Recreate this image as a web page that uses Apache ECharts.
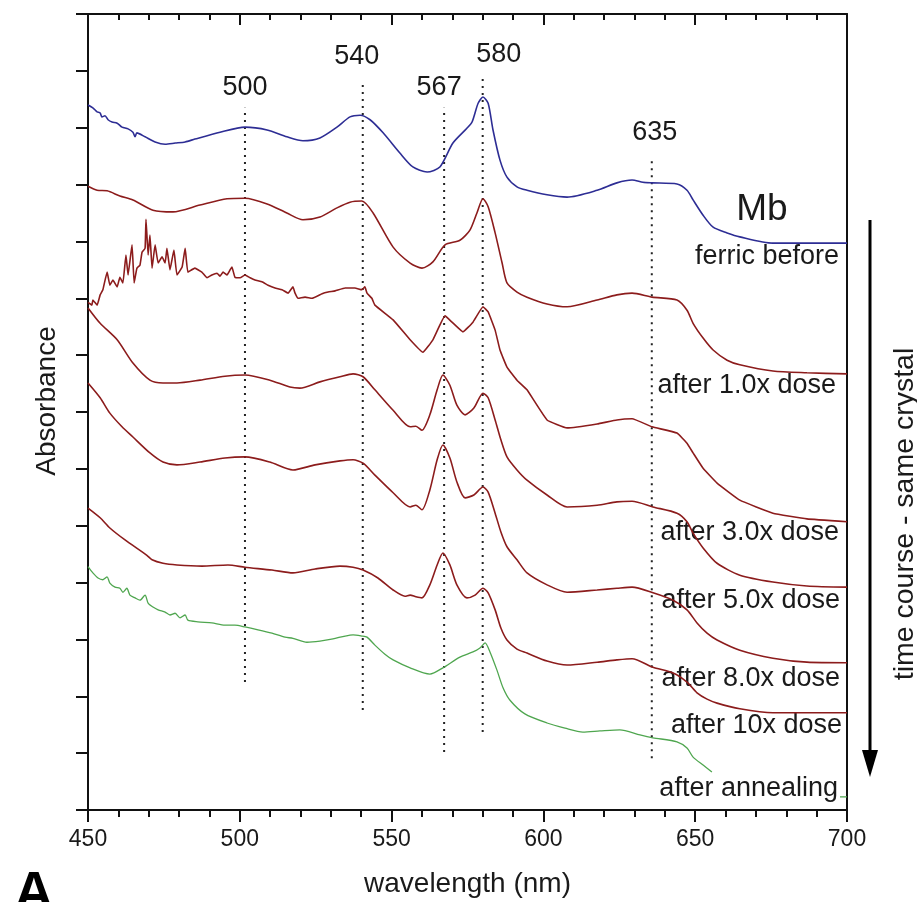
<!DOCTYPE html>
<html>
<head>
<meta charset="utf-8">
<script src="https://cdn.jsdelivr.net/npm/echarts@6/dist/echarts.min.js"></script>
<style>html,body{margin:0;padding:0;background:#fff}#c{width:917px;height:902px}</style>
</head>
<body>
<div id="c"></div>
<script>
// ---------- data (wavelength nm, absorbance in offset units) ----------
const xTickLabels = [450, 500, 550, 600, 650, 700];

const ferricBefore = [[450,12.40],[451.6,12.35],[453.0,12.28],[454.0,12.26],[454.6,12.19],[455.6,12.21],[456.6,12.14],[457.9,12.10],[459.6,12.08],[461.2,12.01],[463.2,11.98],[464.8,11.92],[465.5,11.84],[466.1,11.91],[468.8,11.84],[472.1,11.75],[475.4,11.71],[478.7,11.73],[482.0,11.75],[485.2,11.80],[493.5,11.92],[501.7,12.01],[509.0,11.96],[515.5,11.84],[520.8,11.77],[526.4,11.82],[532.0,12.01],[536.3,12.19],[539.6,12.22],[542.9,12.14],[547.2,11.91],[552.8,11.55],[557.0,11.31],[561.7,11.22],[565.9,11.31],[570.2,11.73],[574.8,11.99],[576.5,12.10],[578.5,12.43],[580.1,12.54],[581.8,12.43],[583.4,11.96],[585.7,11.43],[588.0,11.13],[591.3,10.96],[594.6,10.90],[601.2,10.82],[607.8,10.78],[617.7,10.90],[624.2,11.03],[629.2,11.08],[632.8,11.04],[635.8,11.03],[644.0,11.01],[647.3,10.90],[649.3,10.73],[652.6,10.46],[655.9,10.25],[660.5,10.15],[664.7,10.08],[675.6,9.97],[686.8,9.97],[700,9.97]];

const dose1x = [[450,10.97],[453.0,10.90],[456.3,10.89],[460.5,10.80],[464.8,10.73],[471.4,10.55],[478.0,10.52],[486.9,10.64],[495.8,10.75],[501.7,10.76],[509.0,10.66],[515.5,10.50],[520.8,10.38],[526.4,10.43],[532.0,10.59],[536.3,10.69],[540.2,10.71],[543.9,10.50],[550.5,9.90],[556.1,9.62],[560.0,9.53],[563.6,9.64],[567.6,9.94],[572.5,10.02],[575.8,10.20],[578.1,10.50],[580.1,10.75],[581.8,10.61],[584.1,10.15],[586.4,9.62],[588.0,9.27],[591.3,9.11],[594.6,9.02],[601.2,8.90],[607.8,8.85],[617.7,8.97],[624.2,9.06],[629.2,9.09],[635.8,9.02],[644.0,8.97],[647.3,8.79],[649.3,8.56],[652.6,8.30],[655.9,8.09],[660.5,7.91],[664.7,7.83],[675.6,7.72],[686.8,7.69],[700,7.67]];

const dose3x = [[450,8.93],[451.3,8.88],[451.6,8.97],[453.0,8.88],[454.0,9.06],[454.9,9.15],[456.3,9.46],[457.2,9.23],[458.2,9.32],[459.6,9.20],[460.5,9.37],[461.5,9.27],[462.5,9.76],[463.2,9.41],[464.5,9.94],[465.2,9.27],[466.1,9.53],[467.1,9.58],[467.8,9.81],[468.8,9.88],[469.1,10.39],[469.8,9.76],[470.4,10.11],[471.1,9.53],[472.1,9.94],[473.1,9.62],[474.4,9.73],[475.4,9.62],[476.0,9.88],[477.0,9.50],[478.3,9.85],[479.3,9.41],[481.0,9.55],[482.0,9.88],[482.9,9.46],[485.2,9.53],[487.5,9.46],[489.2,9.36],[490.8,9.41],[492.5,9.44],[493.5,9.39],[494.5,9.46],[495.8,9.41],[496.8,9.50],[497.4,9.55],[498.4,9.37],[500.1,9.36],[501.7,9.41],[503.4,9.36],[505.0,9.32],[507.3,9.29],[509.3,9.23],[511.6,9.18],[513.9,9.15],[515.9,9.09],[517.5,9.20],[518.2,9.09],[519.2,9.00],[521.5,9.02],[523.8,9.00],[527.1,9.08],[529.1,9.11],[531.4,9.13],[534.7,9.18],[537.9,9.18],[540.2,9.15],[541.2,9.20],[541.9,9.09],[543.5,9.00],[544.5,8.88],[550.5,8.62],[556.1,8.27],[560.3,8.05],[563.6,8.27],[567.6,8.69],[569.9,8.58],[573.5,8.41],[576.8,8.58],[580.1,8.85],[581.8,8.76],[584.1,8.44],[585.7,8.09],[588.0,7.79],[591.3,7.56],[594.6,7.39],[601.2,6.86],[607.8,6.72],[617.7,6.79],[624.2,6.86],[629.2,6.88],[635.8,6.74],[644.0,6.63],[647.3,6.45],[649.3,6.28],[652.6,6.01],[657.2,5.75],[664.7,5.45],[675.6,5.22],[686.8,5.12],[700,5.07]];

const dose5x = [[450,8.83],[454.0,8.56],[459.6,8.27],[464.8,7.86],[470.4,7.56],[474.7,7.51],[479.3,7.51],[486.9,7.56],[495.1,7.63],[501.7,7.65],[509.9,7.56],[516.5,7.44],[519.8,7.42],[526.4,7.53],[533.0,7.62],[537.3,7.67],[540.6,7.62],[544.5,7.39],[550.5,7.03],[556.1,6.74],[558.0,6.75],[560.0,6.68],[562.6,6.95],[565.0,7.39],[566.9,7.65],[569.2,7.47],[571.5,7.12],[574.2,6.95],[577.1,7.07],[580.1,7.33],[581.8,7.25],[584.1,6.86],[586.0,6.51],[588.0,6.21],[591.3,5.98],[594.6,5.80],[601.2,5.54],[607.8,5.33],[617.7,5.36],[624.2,5.42],[629.2,5.43],[636.1,5.33],[644.0,5.22],[647.3,5.07],[649.3,4.87],[652.6,4.61],[657.2,4.34],[664.7,4.13],[675.6,4.01],[686.8,3.94],[700,3.92]];

const dose8x = [[450,7.51],[454.0,7.25],[457.2,6.98],[461.2,6.74],[464.8,6.56],[470.4,6.28],[474.7,6.12],[479.3,6.07],[486.9,6.12],[495.1,6.19],[501.7,6.21],[509.9,6.12],[517.5,5.98],[524.8,6.07],[533.0,6.14],[537.3,6.16],[540.6,6.10],[544.5,5.89],[550.5,5.58],[556.1,5.33],[558.0,5.36],[560.0,5.28],[562.6,5.63],[565.0,6.16],[566.9,6.42],[569.2,6.19],[571.5,5.77],[574.2,5.49],[577.1,5.54],[580.1,5.68],[581.8,5.59],[584.1,5.22],[586.0,4.89],[588.0,4.63],[591.3,4.40],[594.6,4.17],[601.2,3.96],[607.8,3.83],[617.7,3.87],[624.2,3.90],[629.2,3.92],[636.1,3.82],[642.7,3.69],[647.3,3.52],[650.6,3.29],[653.9,3.11],[657.2,2.99],[664.7,2.81],[675.6,2.67],[686.8,2.60],[700,2.59]];

const dose10x = [[450,5.31],[454.0,5.14],[457.2,4.96],[462.2,4.75],[469.4,4.48],[471.1,4.40],[474.7,4.34],[479.3,4.31],[487.5,4.29],[496.1,4.31],[501.7,4.27],[510.6,4.22],[517.5,4.17],[524.8,4.24],[533.0,4.29],[537.3,4.27],[540.6,4.22],[545.5,4.08],[550.5,3.87],[554.4,3.76],[556.1,3.78],[558.0,3.75],[560.0,3.73],[562.6,3.96],[565.0,4.31],[566.9,4.52],[569.2,4.31],[571.5,3.96],[574.8,3.73],[577.5,3.78],[580.1,3.90],[581.8,3.82],[584.1,3.52],[586.0,3.20],[588.0,2.99],[591.3,2.83],[594.6,2.76],[601.2,2.62],[607.8,2.55],[617.7,2.60],[624.2,2.64],[629.2,2.66],[636.1,2.51],[642.7,2.41],[647.3,2.25],[650.6,2.06],[653.9,1.95],[657.2,1.88],[664.7,1.78],[675.6,1.71],[686.8,1.71],[700,1.71]];

const annealed = [[450,4.28],[451.6,4.17],[453.3,4.08],[454.9,4.05],[456.3,4.10],[457.2,3.99],[458.9,3.92],[460.5,3.90],[461.5,3.83],[462.8,3.90],[463.8,3.78],[465.5,3.73],[467.1,3.69],[468.8,3.78],[469.8,3.64],[471.4,3.57],[473.1,3.52],[475.4,3.48],[477.0,3.43],[478.7,3.46],[480.3,3.38],[482.0,3.43],[482.9,3.34],[486.2,3.31],[490.8,3.29],[495.1,3.25],[498.4,3.25],[501.7,3.22],[506.0,3.17],[510.6,3.11],[514.9,3.04],[517.5,3.02],[522.1,2.95],[526.4,2.97],[530.7,3.01],[534.7,3.06],[537.3,3.08],[540.2,3.06],[541.9,3.04],[544.5,2.90],[547.8,2.74],[550.5,2.64],[556.1,2.50],[562.6,2.39],[566.9,2.50],[572.5,2.69],[576.8,2.78],[579.1,2.85],[580.8,2.94],[582.4,2.78],[584.7,2.46],[586.7,2.15],[589.0,1.93],[593.9,1.69],[601.2,1.53],[607.1,1.44],[613.0,1.37],[618.6,1.39],[625.2,1.41],[631.8,1.32],[636.1,1.27],[644.0,1.20],[647.3,1.09],[649.3,0.93],[652.6,0.79],[655.5,0.67],[676,null],[697.7,0.23],[700,0.23]];

// reference peak markers
const refNames = ['500', '540', '567', '580', '635'];
const refX = [501.7, 540.5, 567.3, 580.0, 635.7];
const refTop = [12.35, 12.79, 12.35, 12.86, 11.48];
const refBottom = [2.25, 1.76, 1.02, 1.37, 0.91];

const curveNames = ['ferric before', 'after 1.0x dose', 'after 3.0x dose', 'after 5.0x dose', 'after 8.0x dose', 'after 10x dose', 'after annealing'];

// ---------- style ----------
const FONT = '"Liberation Sans", Arial, Helvetica, sans-serif';
const BLUE = '#2d2d94', RED = '#8c1c1c', GREEN = '#4fa64f';
const refLabelDx = [0, -6, -5, 16, 3];
const refLabelDist = [6, 12, 6, 10, 11];
const curveLabelPos = [[839,257],[836,386],[839,533],[840,601],[840,679],[842,726],[838,789]];

const chart = echarts.init(document.getElementById('c'), null, {renderer: 'canvas'});

const curves = [ferricBefore, dose1x, dose3x, dose5x, dose8x, dose10x, annealed];
const colors = [BLUE, RED, RED, RED, RED, RED, GREEN];
const series = curves.map((d, i) => ({
  type: 'line', name: curveNames[i], data: d, showSymbol: false, symbol: 'none',
  smooth: i === 2 ? 0.1 : 0.25, connectNulls: false,
  lineStyle: {color: colors[i], width: i === 6 ? 1.3 : 1.6},
  z: 3, silent: true, animation: false
}));
refNames.forEach((n, i) => {
  series.push({
    type: 'line', name: 'ref ' + n, showSymbol: true, symbol: 'circle', symbolSize: 1,
    itemStyle: {color: 'rgba(0,0,0,0)'},
    data: [[refX[i], refBottom[i]], {value: [refX[i], refTop[i]], label: {show: true}}],
    lineStyle: {color: '#222', width: 2, type: [2, 5]},
    label: {show: false, position: 'top', distance: refLabelDist[i], offset: [refLabelDx[i], 0],
      formatter: n, fontFamily: FONT, fontSize: 27, color: '#1a1a1a'},
    z: 2, silent: true, animation: false
  });
});

const graphics = curveNames.map((t, i) => ({
  type: 'text', x: curveLabelPos[i][0], y: curveLabelPos[i][1], silent: true,
  style: {text: t, font: '27px ' + FONT, fill: '#1a1a1a', align: 'right', verticalAlign: 'middle'}
}));
graphics.push({type: 'text', x: 762, y: 210, silent: true,
  style: {text: 'Mb', font: '37px ' + FONT, fill: '#1a1a1a', align: 'center', verticalAlign: 'middle'}});
graphics.push({type: 'line', silent: true, shape: {x1: 870, y1: 220, x2: 870, y2: 756},
  style: {stroke: '#000', lineWidth: 3}});
graphics.push({type: 'polygon', silent: true, shape: {points: [[862, 750], [878, 750], [870, 777]]},
  style: {fill: '#000'}});
graphics.push({type: 'text', x: 905, y: 514, rotation: Math.PI / 2, silent: true,
  style: {text: 'time course - same crystal', font: '28.5px ' + FONT, fill: '#1a1a1a', align: 'center', verticalAlign: 'middle'}});
graphics.push({type: 'text', x: 14, y: 895, silent: true,
  style: {text: 'A', font: 'bold 55px ' + FONT, fill: '#000', align: 'left', verticalAlign: 'middle'}});

chart.setOption({
  animation: false,
  backgroundColor: '#fff',
  grid: {left: 88, right: 70, top: 14, bottom: 92, containLabel: false, outerBoundsMode: 'none'},
  xAxis: [{
    type: 'value', position: 'bottom', min: 450, max: 700, interval: 50,
    name: 'wavelength (nm)', nameLocation: 'middle', nameGap: 60,
    nameTextStyle: {fontFamily: FONT, fontSize: 28, color: '#1a1a1a'},
    axisLine: {show: true, onZero: false, lineStyle: {color: '#111', width: 2}},
    axisTick: {show: true, inside: false, length: 12, lineStyle: {color: '#111', width: 2}},
    minorTick: {show: true, splitNumber: 5, length: 7, lineStyle: {color: '#111', width: 2}},
    axisLabel: {show: true, margin: 18, fontFamily: FONT, fontSize: 23, color: '#1a1a1a',
      formatter: v => (xTickLabels.indexOf(v) >= 0 ? String(v) : '')},
    splitLine: {show: false}
  }, {
    type: 'value', position: 'top', min: 450, max: 700, interval: 50,
    axisLine: {show: true, onZero: false, lineStyle: {color: '#111', width: 2}},
    axisTick: {show: true, inside: true, length: 11, lineStyle: {color: '#111', width: 2}},
    minorTick: {show: true, splitNumber: 5, length: 6, lineStyle: {color: '#111', width: 2}},
    axisLabel: {show: false}, splitLine: {show: false}
  }],
  yAxis: [{
    type: 'value', position: 'left', min: 0, max: 14, interval: 1,
    name: 'Absorbance', nameLocation: 'middle', nameGap: 27, nameRotate: 90,
    nameTextStyle: {fontFamily: FONT, fontSize: 28, color: '#1a1a1a', padding: [0, 0, 0, 22]},
    axisLine: {show: true, onZero: false, lineStyle: {color: '#111', width: 2}},
    axisTick: {show: true, inside: false, length: 12, lineStyle: {color: '#111', width: 2}},
    axisLabel: {show: false}, splitLine: {show: false}
  }, {
    type: 'value', position: 'right', min: 0, max: 14, interval: 1,
    axisLine: {show: true, onZero: false, lineStyle: {color: '#111', width: 2}},
    axisTick: {show: false}, axisLabel: {show: false}, splitLine: {show: false}
  }],
  series: series,
  graphic: graphics
});
</script>
</body>
</html>
